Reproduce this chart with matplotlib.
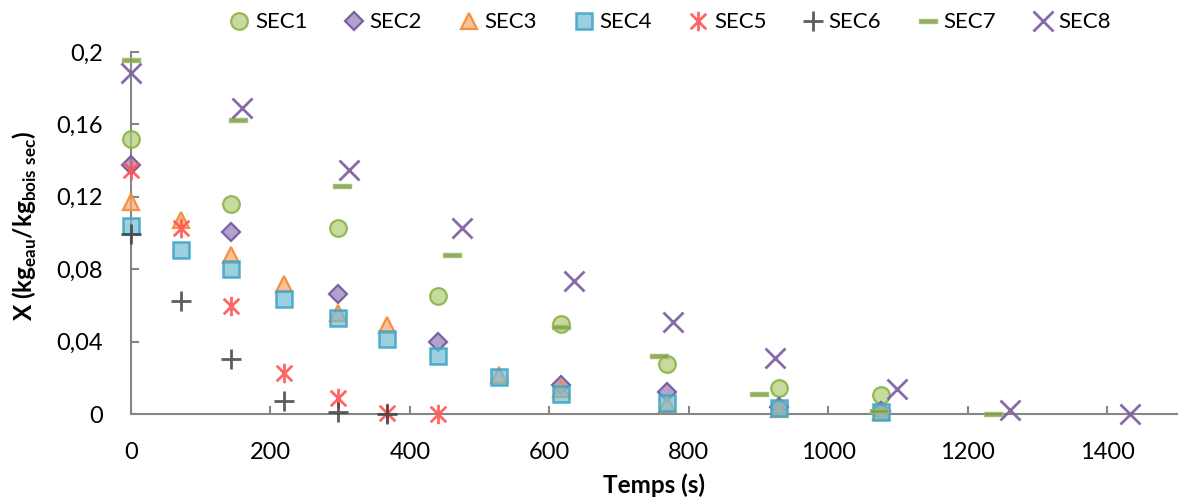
import matplotlib
matplotlib.use("Agg")
import matplotlib.pyplot as plt
from matplotlib.path import Path
from matplotlib.ticker import FixedLocator, FuncFormatter

plt.rcParams['font.family'] = ['Lato', 'DejaVu Sans']
plt.rcParams['mathtext.fontset'] = 'custom'
plt.rcParams['mathtext.rm'] = 'Lato:bold'
plt.rcParams['mathtext.bf'] = 'Lato:bold'

# Drying kinetics: moisture content X versus time for eight runs
sec1_t = [0, 144, 297, 440, 617, 768, 929, 1075]
sec1_x = [0.152, 0.116, 0.1029, 0.0654, 0.0498, 0.0277, 0.0142, 0.0105]

sec2_t = [0, 144, 297, 440, 617, 768, 929, 1075]
sec2_x = [0.1377, 0.1005, 0.0662, 0.040, 0.016, 0.0122, 0.004, 0.0015]

sec3_t = [0, 72, 144, 220, 297, 367, 528, 617, 768, 929, 1075]
sec3_x = [0.1174, 0.1073, 0.088, 0.0719, 0.0557, 0.0492, 0.0215, 0.014, 0.0055, 0.003, 0.001]

sec4_t = [0, 72, 144, 220, 297, 367, 440, 528, 617, 768, 929, 1075]
sec4_x = [0.104, 0.0907, 0.0802, 0.0635, 0.0529, 0.0413, 0.0321, 0.0207, 0.0109, 0.0063, 0.0032, 0.0013]

sec5_t = [0, 72, 144, 220, 297, 367, 440]
sec5_x = [0.135, 0.103, 0.0594, 0.0229, 0.0087, 0.0004, 0.0]

sec6_t = [0, 72, 144, 220, 297, 367]
sec6_x = [0.0996, 0.0625, 0.0303, 0.0074, 0.0013, 0.0]

sec7_t = [0, 153, 302, 460, 617, 757, 901, 1073, 1236]
sec7_x = [0.1955, 0.1622, 0.1257, 0.088, 0.0483, 0.0321, 0.0109, 0.0017, 0.0]

sec8_t = [0, 159, 313, 474, 635, 777, 923, 1098, 1260, 1432]
sec8_x = [0.1885, 0.169, 0.1346, 0.1027, 0.0736, 0.0511, 0.0308, 0.0137, 0.002, 0.0]

labels = ['SEC1', 'SEC2', 'SEC3', 'SEC4', 'SEC5', 'SEC6', 'SEC7', 'SEC8']
x_ticks = [0, 200, 400, 600, 800, 1000, 1200, 1400]
y_ticks = [0, 0.04, 0.08, 0.12, 0.16, 0.2]

asterisk = Path([(0, -1), (0, 1), (-0.8, -0.8), (0.8, 0.8), (-0.8, 0.8), (0.8, -0.8)],
                [Path.MOVETO, Path.LINETO, Path.MOVETO, Path.LINETO, Path.MOVETO, Path.LINETO])
dash = [(-1, -0.24), (1, -0.24), (1, 0.24), (-1, 0.24), (-1, -0.24)]

styles = [
    dict(marker='o', ms=12, mfc=(0.69, 0.80, 0.46, 0.70), mec=(0.55, 0.70, 0.27, 0.90), mew=1.6),
    dict(marker='D', ms=9.5, mfc=(0.58, 0.48, 0.72, 0.70), mec=(0.46, 0.36, 0.62, 0.95), mew=1.6),
    dict(marker='^', ms=12, mfc=(0.98, 0.66, 0.42, 0.70), mec=(0.96, 0.55, 0.23, 0.95), mew=1.6),
    dict(marker='s', ms=12, mfc=(0.45, 0.74, 0.83, 0.70), mec=(0.25, 0.65, 0.78, 0.90), mew=1.8),
    dict(marker=asterisk, ms=14, mfc='none', mec=(1.0, 0.33, 0.33, 0.90), mew=2.0),
    dict(marker='+', ms=14, mfc='none', mec=(0.25, 0.25, 0.25, 0.85), mew=2.0),
    dict(marker=dash, ms=13, mfc=(0.49, 0.62, 0.27, 0.85), mec=(0.62, 0.74, 0.42, 0.9), mew=1.0),
    dict(marker='x', ms=14, mfc='none', mec=(0.50, 0.39, 0.64, 0.95), mew=2.0),
]

series = [(sec1_t, sec1_x), (sec2_t, sec2_x), (sec3_t, sec3_x), (sec4_t, sec4_x),
          (sec5_t, sec5_x), (sec6_t, sec6_x), (sec7_t, sec7_x), (sec8_t, sec8_x)]

fig = plt.figure(figsize=(11.81, 4.98), dpi=100)
ax = fig.add_axes([131 / 1181, 84 / 498, 1046 / 1181, 362 / 498])

handles = []
for (t, x), lab, st in zip(series, labels, styles):
    h, = ax.plot(t, x, linestyle='none', label=lab, clip_on=False, zorder=3, **st)
    handles.append(h)

ax.set_xlim(0, 1500)
ax.set_ylim(0, 0.2)
ax.xaxis.set_major_locator(FixedLocator(x_ticks))
ax.yaxis.set_major_locator(FixedLocator(y_ticks))
ax.yaxis.set_major_formatter(FuncFormatter(lambda v, p: ('%g' % round(v, 2)).replace('.', ',')))

for side in ('top', 'right'):
    ax.spines[side].set_visible(False)
for side in ('left', 'bottom'):
    ax.spines[side].set_color('#868686')
    ax.spines[side].set_linewidth(1.5)
ax.tick_params(direction='in', length=6, width=1.5, color='#868686',
               labelsize=17, labelcolor='black', pad=20)

ax.set_xlabel('Temps (s)', fontsize=17.5, fontweight='bold', labelpad=8)
ax.set_ylabel(r'X (kg$_{\mathrm{eau}}$/kg$_{\mathrm{bois\ sec}}$)', fontsize=17.5, fontweight='bold')
ax.yaxis.set_label_coords(-0.088, 0.52)

fig.legend(handles=handles, loc='center', ncol=8, bbox_to_anchor=(0.566, 0.955),
           frameon=False, fontsize=16, handletextpad=0.1, columnspacing=1.5,
           handlelength=1.2, markerscale=1.0)

fig.savefig('out.png', dpi=100)
